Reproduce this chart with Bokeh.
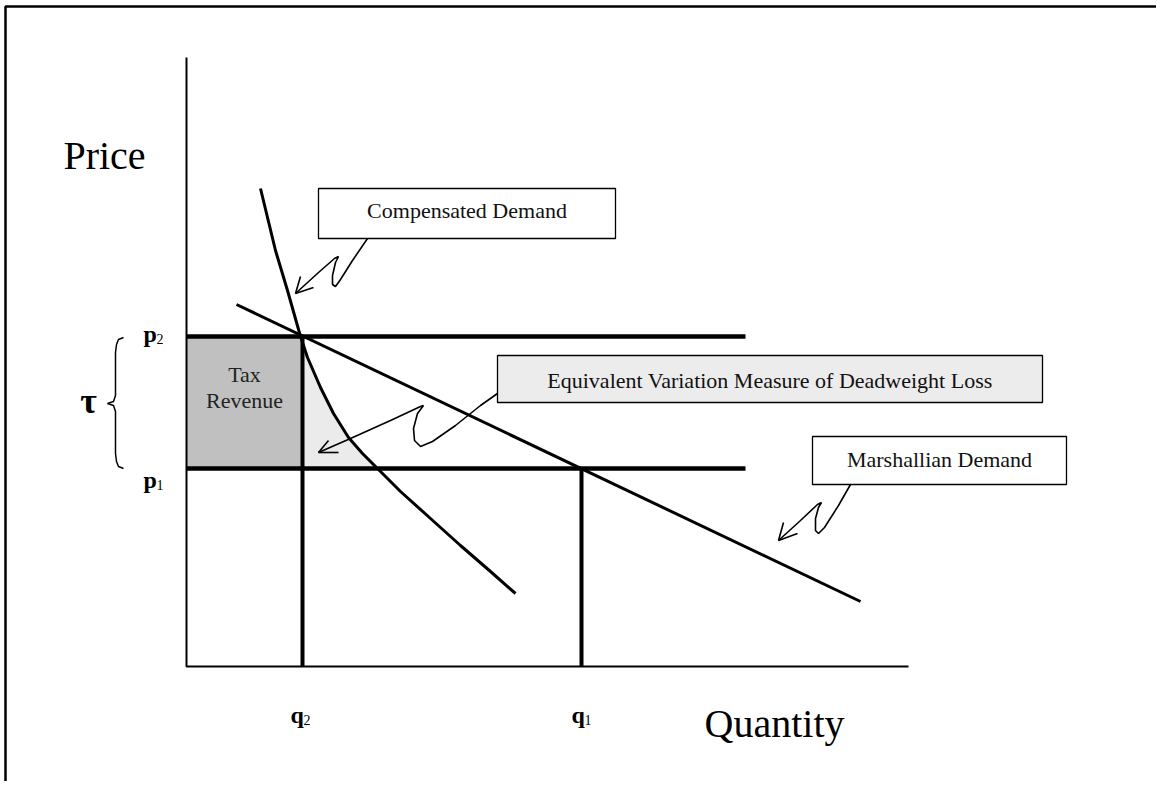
from bokeh.plotting import figure
from bokeh.models import Range1d
from bokeh.core.properties import value
from bokeh.embed import file_html
from bokeh.resources import INLINE

# ---- data (arbitrary units: quantity to the right, price upward) ----
AXIS_Q_MAX = 722
AXIS_P_MAX = 609
q2, q1 = 116, 395
p2, p1 = 330, 198
PRICE_LINE_END = 559

marsh_q = [50, 674]
marsh_p = [362, 65]

comp_q = [74, 89, 101, 114, 121, 134, 147, 162, 176, 191, 214, 244, 274, 304, 329]
comp_p = [478, 416, 376, 330, 309, 279, 253, 229, 213, 198, 175, 148, 121, 95, 73]

# annotation boxes
box_left = [132, 311, 626]
box_right = [429, 856, 880]
box_bottom = [428, 264, 182]
box_top = [478, 311, 230]
box_fill = ["white", "#ececec", "white"]
box_labels = ["Compensated Demand", "Equivalent Variation Measure of Deadweight Loss", "Marshallian Demand"]
box_label_y = [456, 286, 207]

# callout squiggles
comp_arrow_q = [181, 166, 154, 149, 146, 146, 149, 152, 148, 132, 109]
comp_arrow_p = [428, 406, 387, 380, 382, 391, 404, 410, 408, 394, 373]
ev_arrow_q = [311, 294, 269, 246, 234, 228, 227, 231, 237, 234, 204, 164, 132]
ev_arrow_p = [273, 261, 241, 225, 220, 226, 238, 253, 261, 260, 246, 228, 214]
marsh_arrow_q = [664, 652, 638, 632, 629, 629, 632, 635, 631, 614, 592]
marsh_arrow_p = [182, 161, 139, 133, 136, 148, 159, 164, 162, 146, 126]
barb_q0 = [109, 109, 132, 132, 592, 592]
barb_p0 = [373, 373, 214, 214, 126, 126]
barb_q1 = [114, 127, 152, 142, 597, 611]
barb_p1 = [390, 379, 214, 226, 144, 133]

brace_q = [-63, -68, -70, -71, -71, -73, -79, -73, -71, -71, -70, -68, -63]
brace_p = [329, 327, 322, 314, 271, 265, 263, 261, 255, 213, 205, 200, 198]

# level labels
lvl_x = [-43, -43, 104, 385]
lvl_y = [333, 187, -48, -48]
lvl_main = ["p", "p", "q", "q"]
lvl_sub = ["2", "1", "2", "1"]

W, H = 1156, 781
X0, Y0 = -186, -115

p = figure(width=W, height=H, output_backend="svg", toolbar_location=None,
           x_range=Range1d(X0, X0 + W), y_range=Range1d(Y0, Y0 + H),
           min_border=0, outline_line_color=None)
p.axis.visible = False
p.grid.visible = False

serif = value("Liberation Serif")

# page border (top and left)
p.line([-181, -181, X0 + W], [Y0 - 10, 660, 660], line_color="black", line_width=2.5)

# tax revenue and deadweight loss areas
p.quad(left=[0], right=[q2], bottom=[p1], top=[p2], fill_color="#c0c0c0", line_color=None)
dwl_q = [q2] + [max(q, q2) for q, pp in zip(comp_q, comp_p) if p1 <= pp <= p2] + [q2]
dwl_p = [p2] + [pp for pp in comp_p if p1 <= pp <= p2] + [p1]
p.patch(dwl_q, dwl_p, fill_color="#ebebeb", line_color=None)

# axes
p.line([0, 0, AXIS_Q_MAX], [AXIS_P_MAX, 0, 0], line_color="black", line_width=2)

# price and quantity lines
p.segment(x0=[0, 0], y0=[p2, p1], x1=[PRICE_LINE_END, PRICE_LINE_END], y1=[p2, p1],
          line_color="black", line_width=4.5)
p.segment(x0=[q2, q1], y0=[p2, p1], x1=[q2, q1], y1=[0, 0], line_color="black", line_width=4)

# demand curves
p.line(marsh_q, marsh_p, line_color="black", line_width=3)
p.line(comp_q, comp_p, line_color="black", line_width=3)

# boxes
p.quad(left=box_left, right=box_right, bottom=box_bottom, top=box_top,
       fill_color=box_fill, line_color="black", line_width=1.3)
p.text(x=[(a + b) / 2 for a, b in zip(box_left, box_right)], y=box_label_y, text=box_labels,
       text_font=serif, text_font_size="22px", text_align="center", text_baseline="alphabetic",
       text_color="#111111")

# callouts
p.multi_line([comp_arrow_q, ev_arrow_q, marsh_arrow_q], [comp_arrow_p, ev_arrow_p, marsh_arrow_p],
             line_color="black", line_width=1.6)
p.segment(x0=barb_q0, y0=barb_p0, x1=barb_q1, y1=barb_p1, line_color="black", line_width=1.6)

# tax revenue label
p.text(x=[58, 58], y=[292, 266], text=["Tax", "Revenue"], text_font=serif, text_font_size="22px",
       text_align="center", text_baseline="alphabetic", text_color="#222222")

# axis titles
p.text(x=[-82], y=[511], text=["Price"], text_font=serif, text_font_size="40px",
       text_align="center", text_baseline="alphabetic")
p.text(x=[588], y=[-57], text=["Quantity"], text_font=serif, text_font_size="40px",
       text_align="center", text_baseline="alphabetic")

# price / quantity labels
p.text(x=lvl_x, y=lvl_y, text=lvl_main,
       text_font=serif, text_font_size="24px", text_font_style="bold",
       text_align="left", text_baseline="alphabetic")
p.text(x=[v + 13 for v in lvl_x], y=[v - 5 for v in lvl_y], text=lvl_sub,
       text_font=serif, text_font_size="14px",
       text_align="left", text_baseline="alphabetic")

# tau and brace
p.text(x=[-98], y=[266], text=["τ"], text_font=serif, text_font_size="36px",
       text_font_style="bold", text_align="center", text_baseline="middle")
p.line(brace_q, brace_p, line_color="black", line_width=1.5)

open("out.html", "w").write(file_html(p, INLINE))
